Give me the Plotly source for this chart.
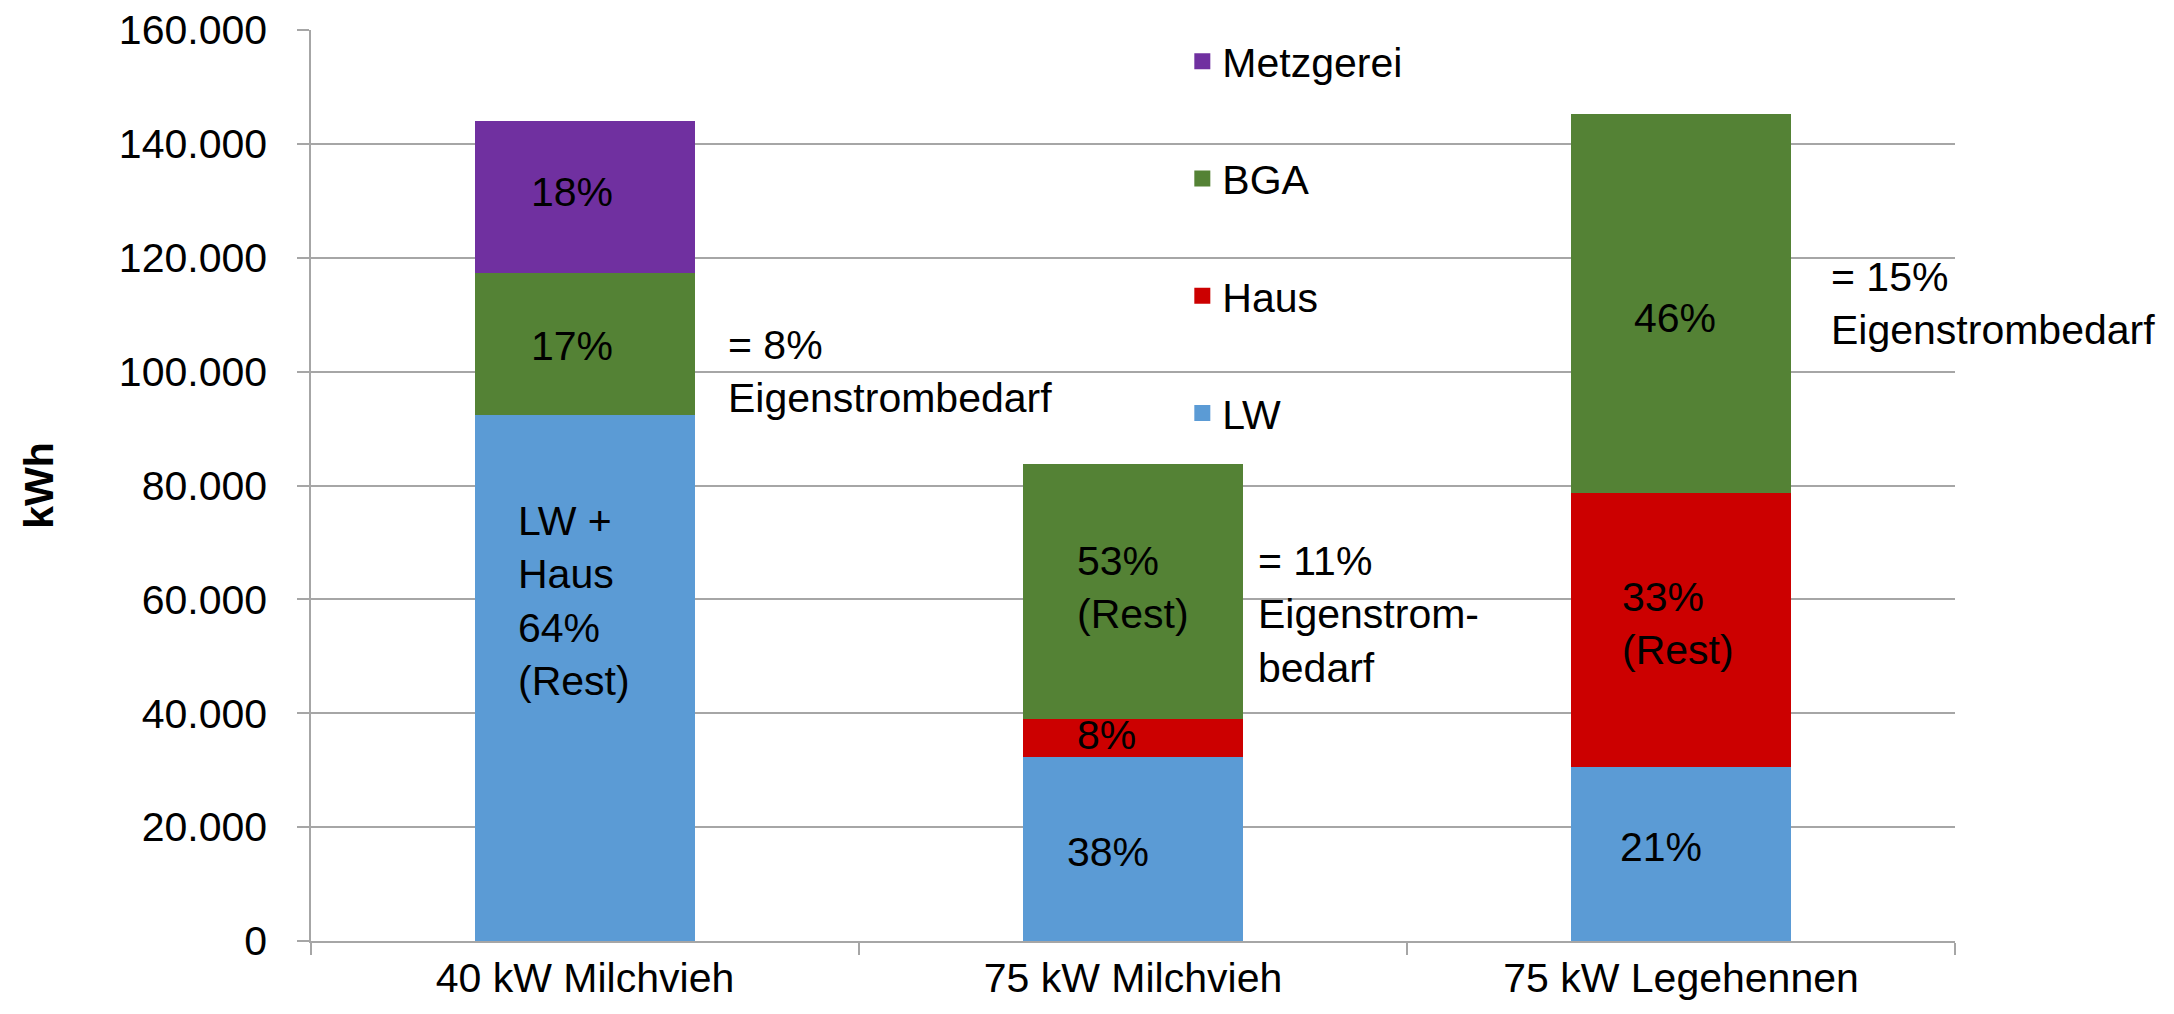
import plotly.graph_objects as go

# Stromverbrauch je Anlage, gestapelt nach Verbraucher (kWh)
categories = ["40 kW Milchvieh", "75 kW Milchvieh", "75 kW Legehennen"]
lw_kwh = [92300, 32250, 30600]
haus_kwh = [0, 6780, 48150]
bga_kwh = [25050, 44670, 66580]
metzgerei_kwh = [26650, 0, 0]

series_names = ["LW", "Haus", "BGA", "Metzgerei"]
series_values = [lw_kwh, haus_kwh, bga_kwh, metzgerei_kwh]
series_colors = ["#5B9BD5", "#CC0000", "#548235", "#7030A0"]

y_ticks = [0, 20000, 40000, 60000, 80000, 100000, 120000, 140000, 160000]

FONT = "Liberation Sans, Arial, sans-serif"
FS = 41
GRID = "#A6A6A6"

fig = go.Figure()
for name, vals, color in zip(series_names, series_values, series_colors):
    fig.add_trace(go.Bar(
        x=categories,
        y=vals,
        name=name,
        showlegend=False,
        marker=dict(color=color, line=dict(width=0)),
        hoverinfo="skip",
    ))

# Legendeneinträge mit größeren Farbquadraten (oberster Stapelteil zuerst)
n = len(series_names)
for i, (name, color) in enumerate(zip(series_names, series_colors)):
    fig.add_trace(go.Scatter(
        x=[None], y=[None],
        mode="markers",
        name=name,
        legendgroup=name,
        legendrank=n - i,
        marker=dict(symbol="square", size=21, color=color),
        hoverinfo="skip",
    ))

# Beschriftungen in und neben den Säulen
labels = [
    # (Kategorie, y, Text, xanchor, xshift)
    (0, 131550, "18%", "center", -13),
    (0, 104500, "17%", "center", -13),
    (0, 59700, "LW +<br>Haus<br>64%<br>(Rest)", "left", -69),
    (0, 100100, "= 8%<br>Eigenstrombedarf", "left", 141),
    (1, 62000, "53%<br>(Rest)", "left", -58),
    (1, 36180, "8%", "left", -58),
    (1, 15630, "38%", "center", -25),
    (1, 57400, "= 11%<br>Eigenstrom-<br>bedarf", "left", 123),
    (2, 109400, "46%", "center", -6),
    (2, 55700, "33%<br>(Rest)", "left", -61),
    (2, 16500, "21%", "center", -20),
    (2, 112000, "= 15%<br>Eigenstrombedarf", "left", 148),
]
annotations = []
for ci, yv, txt, anchor, xs in labels:
    annotations.append(dict(
        x=categories[ci], y=yv, xref="x", yref="y",
        text=txt, showarrow=False, xanchor=anchor, yanchor="middle",
        align="left", xshift=xs,
        font=dict(family=FONT, size=FS, color="black"),
    ))

fig.update_layout(
    width=2174,
    height=1014,
    autosize=False,
    margin=dict(l=311, r=219, t=30, b=73, pad=0),
    paper_bgcolor="white",
    plot_bgcolor="white",
    barmode="stack",
    bargap=0.6,
    separators=",.",
    font=dict(family=FONT, size=FS, color="black"),
    showlegend=True,
    legend=dict(
        x=0.530, xanchor="left",
        y=1.0022, yanchor="top",
        traceorder="grouped",
        tracegroupgap=61,
        bgcolor="rgba(0,0,0,0)",
        font=dict(family=FONT, size=FS, color="black"),
    ),
    annotations=annotations,
)

fig.update_xaxes(
    type="category",
    range=[-0.5, 2.5],
    automargin=False,
    showline=True, linecolor=GRID, linewidth=2,
    ticks="outside", ticklen=12, tickcolor=GRID, tickwidth=1.5,
    tickson="boundaries",
    showgrid=False,
    tickfont=dict(family=FONT, size=FS, color="black"),
)

fig.update_yaxes(
    range=[0, 160000],
    automargin=False,
    tickvals=y_ticks,
    tickformat=",d",
    showline=True, linecolor=GRID, linewidth=1.5,
    ticks="outside", ticklen=12, tickcolor=GRID, tickwidth=1.5,
    ticklabelstandoff=22,
    showgrid=True, gridcolor=GRID, gridwidth=2,
    zeroline=False,
    tickfont=dict(family=FONT, size=FS, color="black"),
    title=dict(text="<b>kWh</b>", font=dict(family=FONT, size=FS, color="black"), standoff=52),
)

fig.write_html("out.html")
